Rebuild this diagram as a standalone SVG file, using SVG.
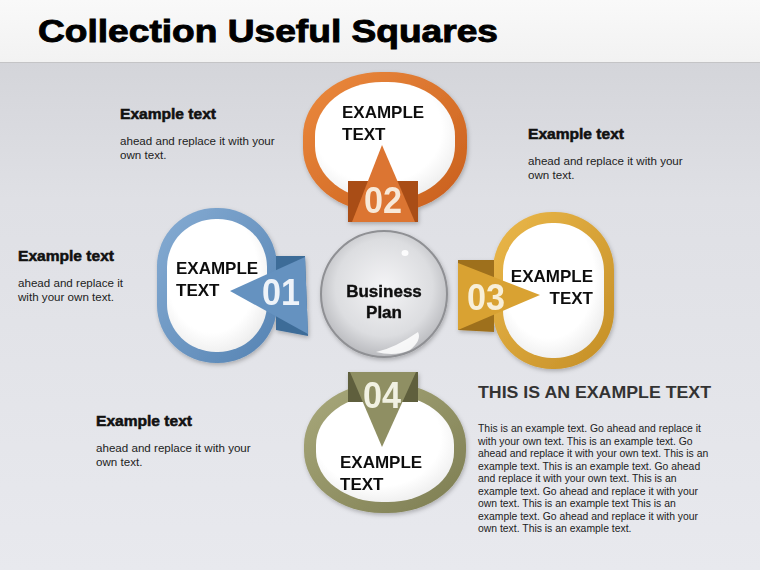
<svg xmlns="http://www.w3.org/2000/svg" width="760" height="570" viewBox="0 0 760 570">
<defs>
<linearGradient id="bg" x1="0" y1="0" x2="0" y2="1">
<stop offset="0" stop-color="#cfd0d5"/>
<stop offset="0.35" stop-color="#dfe0e5"/>
<stop offset="1" stop-color="#e8e9ee"/>
</linearGradient>
<linearGradient id="top" x1="0" y1="0" x2="0" y2="1">
<stop offset="0" stop-color="#f9f9f9"/>
<stop offset="1" stop-color="#f2f2f2"/>
</linearGradient>
<linearGradient id="gOr" x1="0" y1="0" x2="1" y2="1">
<stop offset="0" stop-color="#ec8a3e"/>
<stop offset="1" stop-color="#c85e1c"/>
</linearGradient>
<linearGradient id="gBl" x1="0" y1="0" x2="1" y2="1">
<stop offset="0" stop-color="#86acd3"/>
<stop offset="1" stop-color="#5583b3"/>
</linearGradient>
<linearGradient id="gGo" x1="0" y1="0" x2="1" y2="1">
<stop offset="0" stop-color="#ebb84a"/>
<stop offset="1" stop-color="#c48e26"/>
</linearGradient>
<linearGradient id="gOl" x1="0" y1="0" x2="1" y2="1">
<stop offset="0" stop-color="#a9a97b"/>
<stop offset="1" stop-color="#7d7d52"/>
</linearGradient>
<radialGradient id="gIn" cx="0.45" cy="0.4" r="0.65">
<stop offset="0.7" stop-color="#ffffff"/>
<stop offset="1" stop-color="#ececec"/>
</radialGradient>
<radialGradient id="gBall" cx="0.5" cy="0.45" r="0.55">
<stop offset="0" stop-color="#f4f4f6"/>
<stop offset="0.7" stop-color="#dcdde0"/>
<stop offset="1" stop-color="#b9babe"/>
</radialGradient>
<filter id="sh" x="-20%" y="-20%" width="140%" height="140%">
<feDropShadow dx="1" dy="2" stdDeviation="2" flood-color="#000" flood-opacity="0.25"/>
</filter>
<style>
.t{font-family:"Liberation Sans",Arial,sans-serif}
.lbl{font-family:"Liberation Sans",Arial,sans-serif;font-weight:bold;font-size:17px;fill:#111}
.num{font-family:"Liberation Sans",Arial,sans-serif;font-weight:bold;font-size:36px;text-anchor:middle}
.hd{font-family:"Liberation Sans",Arial,sans-serif;font-weight:bold;font-size:14px;fill:#111;stroke:#111;stroke-width:0.5}
.bd{font-family:"Liberation Sans",Arial,sans-serif;font-size:11.6px;fill:#222}
.para{font-family:"Liberation Sans",Arial,sans-serif;font-size:10.4px;fill:#222}
</style>
</defs>
<rect x="0" y="0" width="760" height="570" fill="url(#bg)"/>
<rect x="0" y="0" width="760" height="62" fill="url(#top)"/>
<line x1="0" y1="62.5" x2="760" y2="62.5" stroke="#c4c4c6" stroke-width="1"/>
<text class="t" x="38" y="42" font-size="31" font-weight="bold" fill="#000" stroke="#000" stroke-width="0.9" textLength="460" lengthAdjust="spacingAndGlyphs">Collection Useful Squares</text>

<g id="connectors"></g>

<g id="node-02" filter="url(#sh)">
<rect x="303" y="72" width="164" height="140" rx="78" ry="64" fill="url(#gOr)"/>
<rect x="315" y="82" width="140" height="118" rx="67" ry="54" fill="url(#gIn)"/>
<polygon points="348,181 418,181 418,222 348,222" fill="#a94e18"/>
<polygon points="382,145 352,222 415,222" fill="#dc7430"/>
<text class="lbl" x="342" y="118">EXAMPLE</text>
<text class="lbl" x="342" y="140">TEXT</text>
<text class="num" x="383" y="213" fill="#f7e9d9" textLength="38" lengthAdjust="spacingAndGlyphs">02</text>
</g>

<g id="node-01" filter="url(#sh)">
<rect x="157" y="208" width="120" height="155" rx="59" ry="58" fill="url(#gBl)"/>
<rect x="167" y="219" width="100" height="133" rx="49" ry="48" fill="url(#gIn)"/>
<polygon points="276,256 305,256 308,336 276,330" fill="#3e6c98"/>
<polygon points="230,291 305,257 308,334" fill="#6592c0"/>
<text class="lbl" x="176" y="274">EXAMPLE</text>
<text class="lbl" x="176" y="296">TEXT</text>
<text class="num" x="281" y="305" fill="#eef3f9" textLength="38" lengthAdjust="spacingAndGlyphs">01</text>
</g>

<g id="node-03" filter="url(#sh)">
<rect x="493" y="212" width="121" height="157" rx="59" ry="58" fill="url(#gGo)"/>
<rect x="503" y="223" width="101" height="135" rx="49" ry="48" fill="url(#gIn)"/>
<polygon points="458,260 494,260 494,332 458,330" fill="#9e701c"/>
<polygon points="540,295 458,263 458,330" fill="#d9a233"/>
<text class="lbl" x="593" y="282" text-anchor="end">EXAMPLE</text>
<text class="lbl" x="593" y="304" text-anchor="end">TEXT</text>
<text class="num" x="486" y="310" fill="#f8efd8" textLength="38" lengthAdjust="spacingAndGlyphs">03</text>
</g>

<g id="node-04" filter="url(#sh)">
<rect x="304" y="383" width="162" height="130" rx="78" ry="62" fill="url(#gOl)"/>
<rect x="316" y="395" width="138" height="107" rx="66" ry="50" fill="url(#gIn)"/>
<polygon points="348,372 418,372 418,402 348,402" fill="#5f5f3e"/>
<polygon points="382,447 350,372 416,372" fill="#8f8f63"/>
<text class="lbl" x="340" y="468">EXAMPLE</text>
<text class="lbl" x="340" y="490">TEXT</text>
<text class="num" x="382" y="408" fill="#f1f1e2" textLength="38" lengthAdjust="spacingAndGlyphs">04</text>
</g>

<g id="node-center" filter="url(#sh)">
<circle cx="384" cy="294" r="63" fill="url(#gBall)" stroke="#8f9094" stroke-width="2"/>
<ellipse cx="405" cy="253" rx="3.5" ry="3" fill="#ffffff" opacity="0.9"/>
<path d="M376,352 Q395,348 418,332 Q422,340 410,350 Q395,357 376,352 Z" fill="#ffffff" opacity="0.85"/>
<text class="t" x="384" y="297" font-size="17" font-weight="bold" fill="#111" stroke="#111" stroke-width="0.4" text-anchor="middle">Business</text>
<text class="t" x="384" y="318" font-size="17" font-weight="bold" fill="#111" stroke="#111" stroke-width="0.4" text-anchor="middle">Plan</text>
</g>

<g id="note-tl">
<text class="hd" x="120" y="119" textLength="96" lengthAdjust="spacingAndGlyphs">Example text</text>
<text class="bd" x="120" y="145">ahead and replace it with your</text>
<text class="bd" x="120" y="159">own text.</text>
</g>
<g id="note-tr">
<text class="hd" x="528" y="139" textLength="96" lengthAdjust="spacingAndGlyphs">Example text</text>
<text class="bd" x="528" y="165">ahead and replace it with your</text>
<text class="bd" x="528" y="179">own text.</text>
</g>
<g id="note-l">
<text class="hd" x="18" y="261" textLength="96" lengthAdjust="spacingAndGlyphs">Example text</text>
<text class="bd" x="18" y="287">ahead and replace it</text>
<text class="bd" x="18" y="301">with your own text.</text>
</g>
<g id="note-bl">
<text class="hd" x="96" y="426" textLength="96" lengthAdjust="spacingAndGlyphs">Example text</text>
<text class="bd" x="96" y="452">ahead and replace it with your</text>
<text class="bd" x="96" y="466">own text.</text>
</g>

<g id="note-main">
<text class="t" x="478" y="398" font-size="17" font-weight="bold" fill="#333" textLength="233" lengthAdjust="spacingAndGlyphs">THIS IS AN EXAMPLE TEXT</text>
<text class="para" x="478" y="432">This is an example text. Go ahead and replace it</text>
<text class="para" x="478" y="444.5">with your own text. This is an example text. Go</text>
<text class="para" x="478" y="457">ahead and replace it with your own text. This is an</text>
<text class="para" x="478" y="469.5">example text. This is an example text. Go ahead</text>
<text class="para" x="478" y="482">and replace it with your own text. This is an</text>
<text class="para" x="478" y="494.5">example text. Go ahead and replace it with your</text>
<text class="para" x="478" y="507">own text. This is an example text This is an</text>
<text class="para" x="478" y="519.5">example text. Go ahead and replace it with your</text>
<text class="para" x="478" y="532">own text. This is an example text.</text>
</g>
</svg>
